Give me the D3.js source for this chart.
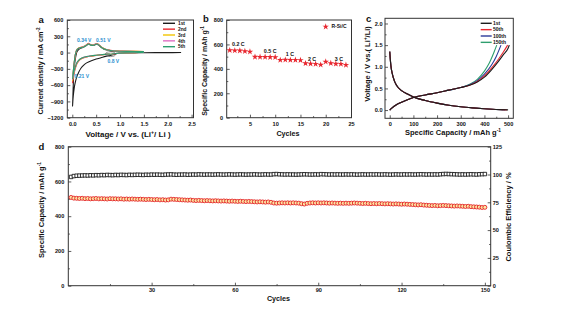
<!DOCTYPE html>
<html><head><meta charset="utf-8">
<script src="https://cdn.jsdelivr.net/npm/d3@7"></script>
<style>body{margin:0;background:#fff}</style>
</head><body><svg id="c" width="564" height="314"></svg>
<script>
// ---------- Panel a : CV data ----------
const cvLabels = ["1st","2nd","3rd","4th","5th"];
const cv1V = [2.28,2.0,1.5,1.2,1.0,0.9,0.85,0.8,0.75,0.7,0.6,0.5,0.4,0.3,0.24,0.18,0.13,0.1,0.07,0.05,0.03,0.015,0.005,
              0.01,0.02,0.03,0.05,0.08,0.1,0.15,0.2,0.25,0.3,0.34,0.38,0.43,0.47,0.51,0.55,0.6,0.65,0.7,0.8,0.9,1.0,1.2,1.5];
const cv1I = [0,-1,-3,-6,-12,-25,-40,-55,-60,-70,-95,-120,-150,-190,-230,-290,-370,-430,-520,-600,-720,-850,-990,
              -870,-600,-400,-200,-40,20,70,90,105,135,155,140,130,140,155,140,100,70,50,30,22,18,14,10];
const cvV = [1.5,1.3,1.1,1.0,0.9,0.85,0.8,0.75,0.7,0.6,0.5,0.4,0.3,0.2,0.15,0.1,0.07,0.04,0.02,0.005,
             0.02,0.04,0.06,0.08,0.1,0.15,0.2,0.25,0.3,0.34,0.38,0.43,0.47,0.51,0.55,0.6,0.65,0.7,0.8,0.9,1.0,1.2,1.5];
const cv2I = [5,-2,-8,-12,-20,-28,-35,-30,-35,-45,-55,-65,-80,-110,-140,-200,-270,-370,-460,-560,
              -380,-200,-60,20,60,90,100,115,145,170,150,140,152,168,150,110,80,60,40,32,28,24,20];
const cv3I = [5,-2,-7,-11,-18,-26,-33,-28,-33,-43,-52,-62,-77,-105,-135,-190,-255,-350,-430,-520,
              -360,-190,-55,20,58,88,98,112,140,163,146,137,148,162,146,107,78,58,39,31,27,23,20];
const cv4I = [4,-2,-7,-10,-17,-25,-32,-27,-32,-42,-50,-60,-75,-102,-130,-185,-250,-340,-415,-500,
              -350,-185,-50,18,56,86,96,110,138,160,144,135,146,160,144,105,77,57,38,30,26,22,19];
const cv5I = [4,-2,-6,-10,-16,-24,-31,-26,-31,-41,-49,-58,-73,-100,-128,-180,-245,-330,-405,-485,
              -340,-180,-48,18,55,85,95,108,136,158,142,133,144,158,142,103,76,56,37,29,25,22,19];
// annotation text and the (V, I) where its label sits
const cvPeakText = ["0.34 V","0.51 V","0.21 V","0.8 V"];
const cvPeakLabelV = [0.25,0.65,0.2,0.86];
const cvPeakLabelI = [200,200,-464,-200];
const cvMarkV = 0.8, cvMarkI = -30;
const aXTicks = [0,0.5,1.0,1.5,2.0,2.5];
const aYTicks = [600,300,0,-300,-600,-900,-1200];

// ---------- Panel b : rate data ----------
const rateCycles = [1,2,3,4,5,6,7,8,9,10,11,12,13,14,15,16,17,18,19,20,21,22,23,24];
const rateCap = [552,550,549,544,540,498,497,497,496,495,472,474,472,473,471,445,442,440,433,458,446,441,440,432];
const rateText = ["0.2 C","0.5 C","1 C","2 C","3 C"];
const rateTextCycle = [2.7,9,12.9,17.3,22.6];
const rateTextCap = [586,531,504,463,463];
const bXTicks = [5,10,15,20,25];
const bYTicks = [0,200,400,600,800];

// ---------- Panel c : charge/discharge ----------
const gcdLabels = ["1st","50th","100th","150th"];
const disV   = [1.35,1.2,1.02,0.86,0.67,0.56,0.45,0.37,0.3,0.22,0.16,0.11,0.075,0.05,0.03,0.015,0.005];
const dis1Cap   = [0,2,5,10,20,30,50,75,100,150,200,250,300,350,400,450,500];
const dis50Cap  = [0,2,5,10,20,30,50,75,100,150,200,250,300,350,400,450,495];
const dis100Cap = [0,2,5,10,20,30,50,75,100,150,200,250,300,350,400,448,488];
const dis150Cap = [0,2,5,10,20,30,50,75,100,150,200,250,300,350,400,445,480];
const chg1Cap   = [0,10,25,50,75,100,150,200,250,300,340,370,400,430,460,480,500,505];
const chg1V     = [0,0.05,0.11,0.18,0.24,0.29,0.35,0.4,0.46,0.52,0.58,0.65,0.76,0.93,1.13,1.28,1.43,1.5];
const chg50Cap  = [0,10,25,50,75,100,150,200,250,300,340,370,400,430,460,480,498];
const chg50V    = [0,0.05,0.11,0.18,0.24,0.29,0.35,0.4,0.46,0.52,0.58,0.66,0.79,0.97,1.18,1.34,1.5];
const chg100Cap = [0,10,25,50,75,100,150,200,250,300,340,370,400,430,450,470];
const chg100V   = [0,0.05,0.11,0.18,0.24,0.29,0.35,0.4,0.46,0.52,0.59,0.68,0.83,1.04,1.24,1.5];
const chg150Cap = [0,10,25,50,75,100,150,200,250,300,340,370,400,420,440,452];
const chg150V   = [0,0.05,0.11,0.18,0.24,0.29,0.35,0.4,0.46,0.52,0.6,0.71,0.9,1.08,1.33,1.5];
const cXTicks = [0,100,200,300,400,500];
const cYTicks = [0,0.5,1.0,1.5,2.0];

// ---------- Panel d : cycling ----------
const cycCap = [508,504,503,502,503,501,502,500,501,502, 500,501,500,499,501,500,500,499,500,498,
  499,498,499,498,497,498,497,496,497,496, 495,496,494,495,493,494,498,497,496,495,
  494,493,492,493,491,490,491,490,489,490, 489,488,489,488,487,488,487,486,487,486,
  485,486,485,484,485,484,483,482,483,482, 481,482,480,476,475,476,477,476,477,476,
  477,476,475,472,470,474,476,477,476,477, 476,477,476,475,476,475,474,475,474,475,
  474,475,476,475,474,473,474,473,472,473, 472,473,472,471,472,471,470,471,470,469,
  470,469,468,467,466,465,466,464,463,462, 461,462,460,461,462,461,460,459,458,459,
  458,457,456,457,455,454,453,452,450,451];
const cycCE = [97.8,98.6,98.9,99.0,99.1,99.2,99.1,99.3,99.2,99.4, 99.3,99.5,99.4,99.6,99.5,99.4,99.6,99.5,99.7,99.6,
  99.5,99.7,99.6,99.7,99.8,99.7,99.6,99.8,99.7,99.9, 99.8,99.9,99.8,99.7,99.9,100.0,100.1,99.9,99.8,99.9,
  99.9,100.0,99.8,99.9,100.0,99.9,100.1,100.0,99.9,100.0, 100.0,99.9,100.0,100.1,100.0,99.9,100.0,100.1,100.0,99.9,
  100.0,100.1,100.0,99.9,100.0,100.0,100.1,100.0,99.9,100.0, 100.1,100.0,100.0,100.3,100.4,100.2,100.1,100.0,100.1,100.0,
  100.0,99.9,100.0,100.1,100.2,100.1,100.0,100.0,100.1,100.0, 100.3,100.2,100.1,100.0,100.1,100.0,100.1,100.0,100.0,100.1,
  100.0,100.1,100.0,99.9,100.0,100.1,100.0,100.0,100.1,100.0, 100.1,100.0,100.0,100.1,100.0,99.9,100.0,100.1,100.0,100.0,
  100.1,100.0,100.1,100.0,100.0,100.1,100.2,100.1,100.0,100.1, 100.0,100.1,100.0,100.2,100.4,100.5,100.4,100.3,100.2,100.1,
  100.0,100.1,100.0,100.1,100.2,100.1,100.0,100.2,100.3,100.4];
const cycNo = d3.range(1, cycCap.length + 1);
const dXTicks = [30,60,90,120,150];
const dYTicks = [0,200,400,600,800];
const dY2Ticks = [0,25,50,75,100,125];

// ---------- drawing ----------
const FONT = '"Liberation Sans", Arial, Helvetica, sans-serif';
const svg = d3.select("#c");
svg.append("rect").attr("width",564).attr("height",314).attr("fill","#fff");
const AX = "#333";

function styleText(sel, fs){
  sel.attr("font-family",FONT).attr("font-weight","bold").attr("font-size",fs).attr("fill","#111");
}
function panel(xs, ys, o){
  const [x0,x1] = xs.range(), [y0,y1] = ys.range();
  const g = svg.append("g");
  const add = (axis, tr) => g.append("g").attr("transform", tr).call(axis);
  add(d3.axisBottom(xs).tickValues(o.xMinor).tickSize(-1.6).tickFormat(""), `translate(0,${y0})`);
  add(d3.axisBottom(xs).tickValues(o.xTicks).tickSize(-3).tickPadding(o.xPad).tickFormat(o.xFmt), `translate(0,${y0})`);
  add(d3.axisLeft(ys).tickValues(o.yMinor).tickSize(-1.6).tickFormat(""), `translate(${x0},0)`);
  add(d3.axisLeft(ys).tickValues(o.yTicks).tickSize(-3).tickPadding(o.yPad).tickFormat(o.yFmt), `translate(${x0},0)`);
  if (o.y2){
    add(d3.axisRight(o.y2).tickValues(o.y2Minor).tickSize(-1.6).tickFormat(""), `translate(${x1},0)`);
    add(d3.axisRight(o.y2).tickValues(o.y2Ticks).tickSize(-3).tickPadding(2).tickFormat(d3.format("d")), `translate(${x1},0)`);
  }
  g.selectAll(".domain").remove();
  g.selectAll(".tick line").attr("stroke",AX).attr("stroke-width",0.8);
  styleText(g.selectAll("text"), o.fs);
  g.append("rect").attr("x",x0).attr("y",y1).attr("width",x1-x0).attr("height",y0-y1)
    .attr("fill","none").attr("stroke",AX).attr("stroke-width",1);
  return g;
}
function title(x, y, parts, fs, rot){
  const t = svg.append("text").attr("transform",`translate(${x},${y})${rot?" rotate(-90)":""}`)
    .attr("text-anchor","middle");
  styleText(t, fs);
  parts.forEach(p=>{
    const s = t.append("tspan").text(p.t);
    if (p.sup){ s.attr("font-size",fs*0.65).attr("dy",-fs*0.4); }
    if (p.down){ s.attr("dy",fs*0.4); }
  });
  return t;
}
function letter(x,y,t){ styleText(svg.append("text").attr("x",x).attr("y",y).text(t), 9.5); }

// ---- panel a ----
const ax = d3.scaleLinear().domain([-0.105,2.54]).range([67.3,193.5]);
const ay = d3.scaleLinear().domain([-1200,600]).range([117.7,20]);
const cvColors = ["#1c1c1c","#e8262e","#f2c500","#e070c4","#2e9e6e"];
const cvLine = d3.line().x(d=>ax(d[0])).y(d=>ay(d[1])).curve(d3.curveCatmullRom.alpha(0.5));
const cvSeries = [d3.zip(cv1V,cv1I), d3.zip(cvV,cv2I), d3.zip(cvV,cv3I), d3.zip(cvV,cv4I), d3.zip(cvV,cv5I)];
cvSeries.forEach((s,i)=>svg.append("path").attr("d",cvLine(s)).attr("fill","none")
  .attr("stroke",cvColors[i]).attr("stroke-width",1.1));
panel(ax, ay, {xTicks:aXTicks, xMinor:[0.25,0.75,1.25,1.75,2.25], xFmt:d3.format(".1f"), xPad:4,
  yTicks:aYTicks, yMinor:[450,150,-150,-450,-750,-1050], yFmt:d3.format("d"), yPad:4, fs:5.6});
svg.append("ellipse").attr("cx",ax(cvMarkV)).attr("cy",ay(cvMarkI)).attr("rx",5).attr("ry",2.4)
  .attr("fill","none").attr("stroke","#555").attr("stroke-width",0.6);
cvPeakText.forEach((p,i)=>{
  const t = svg.append("text").attr("x",ax(cvPeakLabelV[i])).attr("y",ay(cvPeakLabelI[i]))
    .attr("text-anchor","middle").text(p);
  styleText(t,5); t.attr("fill","#2b8fd0");
});
cvLabels.forEach((l,i)=>{
  const y = 23.3 + i*5.85;
  svg.append("line").attr("x1",163).attr("x2",175).attr("y1",y).attr("y2",y).attr("stroke",cvColors[i]).attr("stroke-width",1.4);
  styleText(svg.append("text").attr("x",178).attr("y",y).attr("dy","0.35em").text(l),4.8);
});
letter(38.5,23,"a");
title(43,71,[{t:"Current density / mA cm"},{t:"-2",sup:true}],7.2,true);
title(128,137,[{t:"Voltage / V vs. (Li"},{t:"+",sup:true},{t:"/ Li )",down:true}],8,false);

// ---- panel b ----
const bx = d3.scaleLinear().domain([0.4,25.1]).range([226.7,351.5]);
const by = d3.scaleLinear().domain([0,800]).range([117.7,20]);
panel(bx, by, {xTicks:bXTicks, xMinor:[2.5,7.5,12.5,17.5,22.5], xFmt:d3.format("d"), xPad:4,
  yTicks:bYTicks, yMinor:[100,300,500,700], yFmt:d3.format("d"), yPad:3.5, fs:5.6});
const star = d3.symbol(d3.symbolStar).size(13);
svg.append("g").selectAll("path").data(d3.zip(rateCycles,rateCap)).join("path")
  .attr("transform",d=>`translate(${bx(d[0])},${by(d[1])})`).attr("d",star).attr("fill","#e8262e");
rateText.forEach((r,i)=>styleText(svg.append("text").attr("x",bx(rateTextCycle[i])).attr("y",by(rateTextCap[i])).attr("text-anchor","middle").text(r),5.3));
svg.append("path").attr("transform","translate(325.7,26.7)").attr("d",star).attr("fill","#e8262e");
styleText(svg.append("text").attr("x",331.5).attr("y",26.7).attr("dy","0.35em").text("R-Si/C"),5);
letter(203,22,"b");
title(207,71,[{t:"Specific Capacity / mAh g"},{t:"-1",sup:true}],7,true);
title(288,136,[{t:"Cycles"}],7.2,false);

// ---- panel c ----
const cx = d3.scaleLinear().domain([-20,522]).range([385,513.3]);
const cy = d3.scaleLinear().domain([-0.19,2.12]).range([118.3,18.3]);
const gcdColors = ["#1c1c1c","#e8262e","#2b3a9a","#2e9e6e"];
const gLine = d3.line().x(d=>cx(d[0])).y(d=>cy(d[1])).curve(d3.curveMonotoneX);
const gDis = [d3.zip(dis1Cap,disV), d3.zip(dis50Cap,disV), d3.zip(dis100Cap,disV), d3.zip(dis150Cap,disV)];
const gChg = [d3.zip(chg1Cap,chg1V), d3.zip(chg50Cap,chg50V), d3.zip(chg100Cap,chg100V), d3.zip(chg150Cap,chg150V)];
[3,2,1,0].forEach(i=>{
  svg.append("path").attr("d",gLine(gDis[i])).attr("fill","none").attr("stroke",gcdColors[i]).attr("stroke-width",1.1);
  svg.append("path").attr("d",gLine(gChg[i])).attr("fill","none").attr("stroke",gcdColors[i]).attr("stroke-width",1.1);
});
panel(cx, cy, {xTicks:cXTicks, xMinor:[50,150,250,350,450], xFmt:d3.format("d"), xPad:4,
  yTicks:cYTicks, yMinor:[0.25,0.75,1.25,1.75], yFmt:d3.format(".1f"), yPad:2.5, fs:5.6});
gcdLabels.forEach((l,i)=>{
  const y = 23.3 + i*6.35;
  svg.append("line").attr("x1",480.7).attr("x2",491.7).attr("y1",y).attr("y2",y).attr("stroke",gcdColors[i]).attr("stroke-width",1.4);
  styleText(svg.append("text").attr("x",493).attr("y",y).attr("dy","0.35em").text(l),5);
});
letter(366,22,"c");
title(369.5,64,[{t:"Voltage / V vs.( Li"},{t:"+",sup:true},{t:"/Li)",down:true}],7.5,true);
title(453,134.5,[{t:"Specific Capacity / mAh g"},{t:"-1",sup:true}],7.5,false);

// ---- panel d ----
const dx = d3.scaleLinear().domain([0,152.1]).range([68.3,490.7]);
const dy = d3.scaleLinear().domain([0,800]).range([285.7,146.7]);
const dy2 = d3.scaleLinear().domain([0,125]).range([285.7,146.7]);
panel(dx, dy, {xTicks:dXTicks, xMinor:[15,45,75,105,135], xFmt:d3.format("d"), xPad:2.2,
  yTicks:dYTicks, yMinor:[100,300,500,700], yFmt:d3.format("d"), yPad:4, fs:5.6,
  y2:dy2, y2Ticks:dY2Ticks, y2Minor:[12.5,37.5,62.5,87.5,112.5]});
const ceD = d3.zip(cycNo,cycCE), capD = d3.zip(cycNo,cycCap);
svg.append("path").attr("d",d3.line().x(d=>dx(d[0])).y(d=>dy2(d[1]))(ceD)).attr("fill","none").attr("stroke","#111").attr("stroke-width",0.9);
svg.append("g").selectAll("path").data(ceD).join("path")
  .attr("transform",d=>`translate(${dx(d[0])},${dy2(d[1])})`).attr("d",d3.symbol(d3.symbolSquare).size(12))
  .attr("fill","#fff").attr("stroke","#111").attr("stroke-width",0.85);
svg.append("path").attr("d",d3.line().x(d=>dx(d[0])).y(d=>dy(d[1]))(capD)).attr("fill","none").attr("stroke","#e3191f").attr("stroke-width",0.9);
svg.append("g").selectAll("circle").data(capD).join("circle")
  .attr("cx",d=>dx(d[0])).attr("cy",d=>dy(d[1])).attr("r",2)
  .attr("fill","#fbe7a6").attr("stroke","#e3191f").attr("stroke-width",0.85);
letter(38.5,150,"d");
title(43.5,210,[{t:"Specific Capacity / mAh g"},{t:"-1",sup:true}],7.5,true);
title(511,217,[{t:"Coulombic Efficiency / %"}],7.5,true);
title(278.5,301,[{t:"Cycles"}],7.2,false);
</script></body></html>
